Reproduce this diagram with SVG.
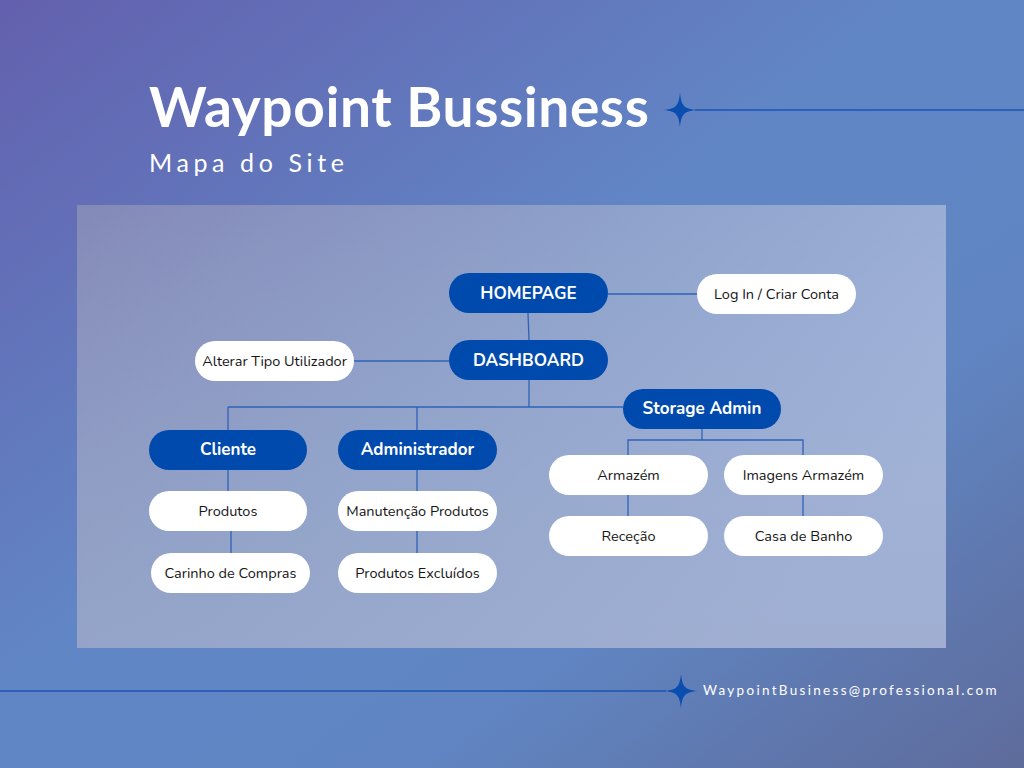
<svg xmlns="http://www.w3.org/2000/svg" width="1024" height="768" viewBox="0 0 1024 768">
  <defs>
    <linearGradient id="bg" x1="0" y1="0" x2="1" y2="1">
      <stop offset="0" stop-color="#6360ae"/>
      <stop offset="0.45" stop-color="#6186c6"/>
      <stop offset="0.7" stop-color="#6085c2"/>
      <stop offset="1" stop-color="#5e6b9b"/>
    </linearGradient>
    <linearGradient id="panel" x1="0" y1="0" x2="1" y2="0.6">
      <stop offset="0" stop-color="#8489b7"/>
      <stop offset="0.5" stop-color="#8fa3cc"/>
      <stop offset="1" stop-color="#a5b8df"/>
    </linearGradient>
    <linearGradient id="panelShade" x1="0" y1="0" x2="0" y2="1">
      <stop offset="0" stop-color="#9aa6c6" stop-opacity="0"/>
      <stop offset="1" stop-color="#9aa6c6" stop-opacity="0.55"/>
    </linearGradient>
    <path id="star" d="M0,-17 C1.5,-4 4,-1.5 16,0 C4,1.5 1.5,4 0,17 C-1.5,4 -4,1.5 -16,0 C-4,-1.5 -1.5,-4 0,-17 Z"/>
    <style>
      .blue rect { fill: #004aad; }
      .white rect { fill: #ffffff; }
      .blue text { fill: #ffffff; font-family: "Nunito", "Lato", "Noto Sans", sans-serif; font-weight: 700; font-size: 17px; text-anchor: middle; }
      .white text { fill: #151515; font-family: "Nunito", "Lato", "Noto Sans", sans-serif; font-size: 14.5px; text-anchor: middle; }
      #connectors line, #connectors polyline { stroke: #2e62b9; stroke-width: 1.3; fill: none; }
      .deco { stroke: #1a55b5; stroke-width: 1.3; }
    </style>
  </defs>

  <!-- background -->
  <rect width="1024" height="768" fill="url(#bg)"/>

  <!-- header -->
  <text x="149" y="127" font-family="Lato, 'Noto Sans', sans-serif" font-weight="700" font-size="55" letter-spacing="0.6" fill="#ffffff">Waypoint Bussiness</text>
  <text x="149" y="172" font-family="Lato, 'Noto Sans', sans-serif" font-size="25" letter-spacing="4.6" fill="#ffffff">Mapa do Site</text>
  <line class="deco" x1="695" y1="110" x2="1024" y2="110"/>
  <use href="#star" x="680" y="110" fill="#0a4fb0"/>

  <!-- panel -->
  <rect x="77" y="205" width="869" height="443" fill="url(#panel)"/>
  <rect x="77" y="205" width="869" height="443" fill="url(#panelShade)"/>

  <!-- connectors -->
  <g id="connectors">
    <line x1="608" y1="294" x2="697" y2="294"/>
    <line x1="528" y1="313" x2="529" y2="340"/>
    <line x1="354" y1="361" x2="449" y2="361"/>
    <line x1="529" y1="380" x2="529" y2="407"/>
    <line x1="228" y1="407" x2="623" y2="407"/>
    <line x1="228" y1="407" x2="228" y2="430"/>
    <line x1="417" y1="407" x2="417" y2="430"/>
    <polyline points="628,455 628,440 803,440 803,455"/>
    <line x1="702" y1="429" x2="702" y2="440"/>
    <line x1="228" y1="470" x2="228" y2="491"/>
    <line x1="231" y1="531" x2="231" y2="553"/>
    <line x1="417" y1="470" x2="417" y2="491"/>
    <line x1="417" y1="531" x2="417" y2="553"/>
    <line x1="628" y1="495" x2="628" y2="516"/>
    <line x1="803" y1="495" x2="803" y2="516"/>
  </g>

  <!-- nodes -->
  <g id="homepage" class="blue"><rect x="449" y="273" width="159" height="40" rx="20"/><text x="528.5" y="299">HOMEPAGE</text></g>
  <g id="login" class="white"><rect x="697" y="274" width="159" height="40" rx="20"/><text x="776.5" y="299">Log In / Criar Conta</text></g>
  <g id="dashboard" class="blue"><rect x="449" y="340" width="159" height="40" rx="20"/><text x="528.5" y="366">DASHBOARD</text></g>
  <g id="alterar" class="white"><rect x="195" y="341" width="159" height="40" rx="20"/><text x="274.5" y="366">Alterar Tipo Utilizador</text></g>
  <g id="storage-admin" class="blue"><rect x="623" y="389" width="158" height="40" rx="20"/><text x="702" y="414">Storage Admin</text></g>
  <g id="cliente" class="blue"><rect x="149" y="430" width="158" height="40" rx="20"/><text x="228" y="455">Cliente</text></g>
  <g id="administrador" class="blue"><rect x="338" y="430" width="159" height="40" rx="20"/><text x="417.5" y="455">Administrador</text></g>
  <g id="produtos" class="white"><rect x="149" y="491" width="158" height="40" rx="20"/><text x="228" y="516">Produtos</text></g>
  <g id="manutencao" class="white"><rect x="338" y="491" width="159" height="40" rx="20"/><text x="417.5" y="516">Manutenção Produtos</text></g>
  <g id="carrinho" class="white"><rect x="151" y="553" width="159" height="40" rx="20"/><text x="230.5" y="578">Carinho de Compras</text></g>
  <g id="excluidos" class="white"><rect x="338" y="553" width="159" height="40" rx="20"/><text x="417.5" y="578">Produtos Excluídos</text></g>
  <g id="armazem" class="white"><rect x="549" y="455" width="159" height="40" rx="20"/><text x="628.5" y="480">Armazém</text></g>
  <g id="imagens" class="white"><rect x="724" y="455" width="159" height="40" rx="20"/><text x="803.5" y="480">Imagens Armazém</text></g>
  <g id="rececao" class="white"><rect x="549" y="516" width="159" height="40" rx="20"/><text x="628.5" y="541">Receção</text></g>
  <g id="casa-banho" class="white"><rect x="724" y="516" width="159" height="40" rx="20"/><text x="803.5" y="541">Casa de Banho</text></g>

  <!-- footer -->
  <line class="deco" x1="0" y1="691" x2="666" y2="691"/>
  <use href="#star" x="681" y="691" fill="#0a4fb0"/>
  <text x="703" y="695" font-family="Lato, 'Noto Sans', sans-serif" font-size="13.5" letter-spacing="2.3" fill="#ffffff">WaypointBusiness@professional.com</text>
</svg>
